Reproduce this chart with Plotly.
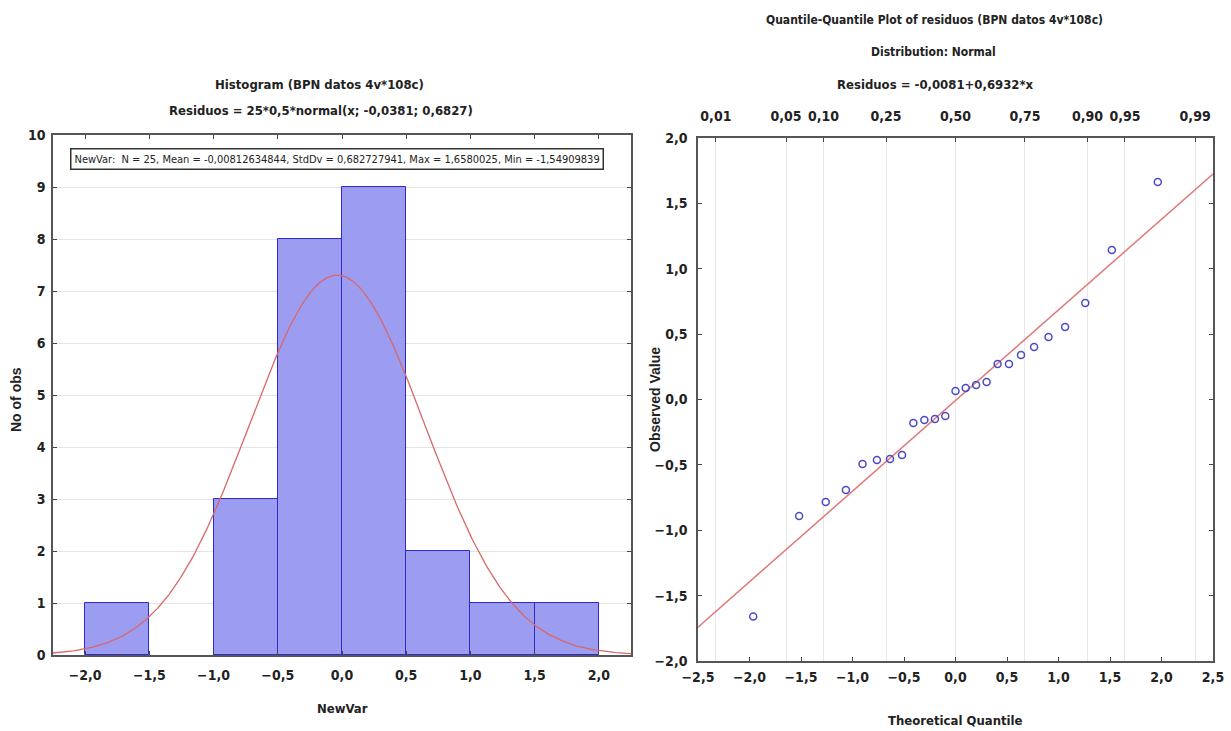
import math
from statistics import NormalDist
import plotly.graph_objects as go

# ---------------- data ----------------
# Histogram (left)
bin_edges = [-2.0, -1.5, -1.0, -0.5, 0.0, 0.5, 1.0, 1.5, 2.0]
bin_counts = [1, 0, 3, 8, 9, 2, 1, 1]
fit_n = 25
fit_binw = 0.5
fit_mean = -0.0381
fit_sd = 0.6827

# Q-Q plot (right)
theo_quantiles = [-1.964, -1.518, -1.260, -1.064, -0.903, -0.763, -0.636, -0.519,
                  -0.409, -0.302, -0.200, -0.099, 0.000, 0.099, 0.200, 0.302,
                  0.409, 0.519, 0.636, 0.763, 0.903, 1.064, 1.260, 1.518, 1.964]
observed = [-1.660, -0.891, -0.784, -0.692, -0.493, -0.463, -0.455, -0.424,
            -0.179, -0.157, -0.149, -0.126, 0.065, 0.088, 0.111, 0.134,
            0.272, 0.272, 0.340, 0.402, 0.478, 0.554, 0.738, 1.143, 1.663]
line_intercept = -0.0081
line_slope = 0.6932
prob_ticks = [0.01, 0.05, 0.10, 0.25, 0.50, 0.75, 0.90, 0.95, 0.99]
prob_labels = ["0,01", "0,05", "0,10", "0,25", "0,50", "0,75", "0,90", "0,95", "0,99"]

# ---------------- figure ----------------
W, H = 1231, 731
def px(x):
    return x / W
def py(y):
    return 1 - y / H

NARROW = "Liberation Sans Narrow, Arial Narrow, DejaVu Sans Condensed, sans-serif"
WIDE = "Liberation Sans, Arial, sans-serif"
TXT = "#222222"

fig = go.Figure()

centers = [(bin_edges[i] + bin_edges[i + 1]) / 2 for i in range(len(bin_counts))]
widths = [bin_edges[i + 1] - bin_edges[i] for i in range(len(bin_counts))]
fig.add_trace(go.Bar(
    x=centers, y=[c if c else None for c in bin_counts], width=widths,
    marker=dict(color="rgba(145,145,240,0.9)", line=dict(color="#2b2bd0", width=1)),
    xaxis="x", yaxis="y", showlegend=False,
))

# expected normal curve, as stated in the chart subtitle
cx = [-2.25 + i * 0.01 for i in range(451)]
cy = [fit_n * fit_binw * math.exp(-0.5 * ((v - fit_mean) / fit_sd) ** 2) / (fit_sd * math.sqrt(2 * math.pi)) for v in cx]
fig.add_trace(go.Scatter(
    x=cx, y=cy, mode="lines", line=dict(color="#d9686a", width=1.3),
    xaxis="x", yaxis="y", showlegend=False,
))

# Q-Q fit line
lx = [-2.5, 2.5]
ly = [line_intercept + line_slope * v for v in lx]
fig.add_trace(go.Scatter(
    x=lx, y=ly, mode="lines", line=dict(color="#e07878", width=1.5),
    xaxis="x2", yaxis="y2", showlegend=False,
))
fig.add_trace(go.Scatter(
    x=theo_quantiles, y=observed, mode="markers",
    marker=dict(symbol="circle-open", size=7, color="#4a4ac8", line=dict(width=1.5)),
    xaxis="x2", yaxis="y2", showlegend=False,
))
# invisible trace so that the top probability axis is drawn
fig.add_trace(go.Scatter(
    x=theo_quantiles, y=observed, mode="markers", marker=dict(opacity=0),
    hoverinfo="skip", xaxis="x3", yaxis="y2", showlegend=False,
))

tickfont = dict(family=NARROW, size=14, color=TXT, weight="bold")
axis_common = dict(showline=True, linecolor="#555555", linewidth=1.5, ticks="inside",
                   ticklen=4, tickcolor="#444444", zeroline=False, tickfont=tickfont,
                   automargin=False)

qz = [NormalDist().inv_cdf(p) for p in prob_ticks]

fig.update_layout(
    width=W, height=H, autosize=False,
    margin=dict(l=0, r=0, t=0, b=0, pad=0),
    paper_bgcolor="white", plot_bgcolor="white",
    separators=",.",
    bargap=0,
    xaxis=dict(domain=[px(53), px(631)], range=[-2.25, 2.25], anchor="y",
               tickvals=bin_edges, tickformat=".1f", mirror="ticks", showgrid=False,
               ticklabelstandoff=6, **axis_common),
    yaxis=dict(domain=[py(655), py(135)], range=[0, 10], anchor="x", dtick=1,
               mirror="ticks", showgrid=True, gridcolor="#e4e4e4", gridwidth=1,
               ticklabelstandoff=3, **axis_common),
    xaxis2=dict(domain=[px(698), px(1213)], range=[-2.5, 2.5], anchor="y2",
                dtick=0.5, tickformat=".1f", mirror=True, showgrid=False,
                ticklabelstandoff=2, **axis_common),
    yaxis2=dict(domain=[py(661), py(138)], range=[-2, 2], anchor="x2",
                dtick=0.5, tickformat=".1f", mirror="ticks", showgrid=False,
                ticklabelstandoff=6, **axis_common),
    xaxis3=dict(overlaying="x2", side="top", anchor="y2", range=[-2.5, 2.5],
                tickmode="array", tickvals=qz, ticktext=prob_labels, ticks="inside",
                ticklen=4, tickcolor="#444444", showline=False, zeroline=False,
                showgrid=True, gridcolor="#e8e8e8", gridwidth=1, tickfont=tickfont,
                ticklabelstandoff=13, automargin=False),
)

def ann(text, x, y, size=13, family=NARROW, bold=True, angle=0, **kw):
    fig.add_annotation(text=text, x=px(x), y=py(y), xref="paper", yref="paper",
                       showarrow=False, xanchor="center", yanchor="middle", textangle=angle,
                       font=dict(family=family, size=size, color=TXT,
                                 weight="bold" if bold else "normal"), **kw)

# left titles
ann("Histogram (BPN datos 4v*108c)", 320, 85, size=13)
ann("Residuos = 25*0,5*normal(x; -0,0381; 0,6827)", 321, 111, size=13)
ann("NewVar:  N = 25, Mean = -0,00812634844, StdDv = 0,682727941, Max = 1,6580025, Min = -1,54909839",
    337, 159, size=11, bold=False, bordercolor="#333333", borderwidth=1.5, borderpad=3,
    bgcolor="white")
ann("NewVar", 342, 708, size=13)
ann("No of obs", 16, 400, size=14, family=WIDE, angle=-90)

# right titles
ann("Quantile-Quantile Plot of residuos (BPN datos 4v*108c)", 934, 20, size=12)
ann("Distribution: Normal", 933, 52, size=12)
ann("Residuos = -0,0081+0,6932*x", 935, 85, size=13)
ann("Theoretical Quantile", 955, 720, size=13)
ann("Observed Value", 655, 400, size=14, family=WIDE, angle=-90)

fig.write_html("out.html")
